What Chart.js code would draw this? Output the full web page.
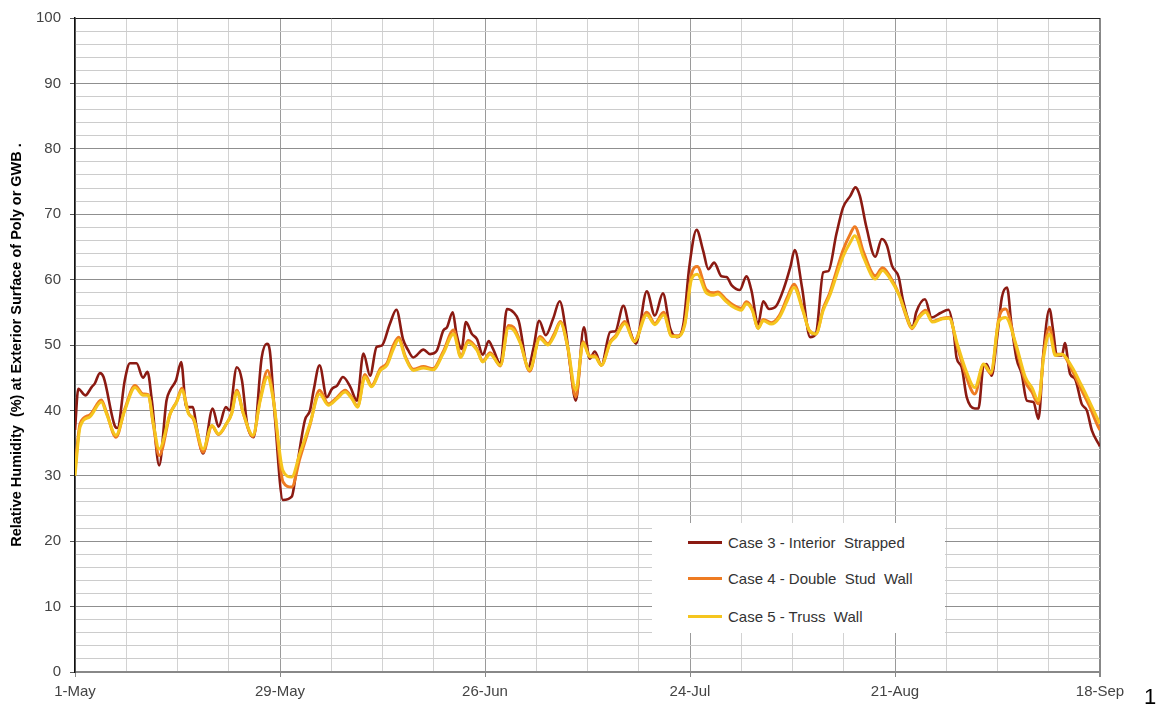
<!DOCTYPE html>
<html><head><meta charset="utf-8">
<script src="https://cdn.jsdelivr.net/npm/chart.js@4/dist/chart.umd.min.js"></script>
<style>
html,body{margin:0;padding:0;background:#fff;}
#wrap{position:relative;width:1163px;height:710px;overflow:hidden;}
#legend{position:absolute;left:652px;top:523px;width:293px;height:110px;background:#fff;font:15px "Liberation Sans",Arial,sans-serif;color:#333;}
.item{position:absolute;left:36px;height:20px;display:flex;align-items:center;white-space:pre;}
.swatch{width:34px;height:3px;margin-right:6px;}
#pagenum{position:absolute;left:1144px;top:684px;font:22px "Liberation Sans",Arial,sans-serif;color:#000;}
</style></head>
<body><div id="wrap"><canvas id="c" width="1163" height="710"></canvas><div id="legend"></div><div id="pagenum">1</div></div>
<script>
// ---- data (x = days since 1-May) ----
const seriesNames = ['Case 3 - Interior  Strapped', 'Case 4 - Double  Stud  Wall', 'Case 5 - Truss  Wall'];
const seriesColors = ['#8B1A12', '#EE7B22', '#F5C51E'];
const tickDays = [0, 28, 56, 84, 112, 140];
const tickLabels = ['1-May', '29-May', '26-Jun', '24-Jul', '21-Aug', '18-Sep'];

const case3Days = [0,0.45,1.4,2.3,2.7,3.4,3.9,5.5,5.8,6.8,7.5,8.4,9.3,9.9,10.5,11.5,12.5,13,13.8,14.5,15.2,16.1,16.6,17.5,18.8,19.6,20.6,21.1,22.1,22.8,23.5,24.4,25.5,26.2,26.6,27.3,28.4,29.6,30.3,31.4,32.1,32.6,33.4,34.4,35.1,35.8,36.6,37.6,38.5,39.4,40.3,41.2,41.9,43,43.9,44.8,45.5,46.2,47.6,48.5,49.4,50.3,50.8,51.6,52.1,52.8,53.4,54.2,54.9,55.7,56.5,57.1,58.1,59,59.9,60.6,61.9,62.6,63.4,64.3,65.3,66.2,67.1,67.6,68.4,69.5,70.3,71,71.9,73.1,73.8,74.9,75.8,76.6,78.1,79.2,80.3,81.3,82.2,83.1,83.9,84.9,85.8,86.5,87.3,88.3,89,89.7,90.8,91.7,92.4,93.3,94,94.8,95.8,96.8,97.7,98.3,99.3,100.4,101.2,102.2,102.9,104,104.9,105.9,106.6,107.2,108.1,109.3,110.2,110.9,111.6,112.5,113.1,114.4,114.9,116.1,117,118.2,119.3,120,120.4,121.1,121.8,122.9,123.4,124.1,124.5,125.2,125.9,126.6,127.3,127.9,128.6,129.3,130,130.9,131.6,132.3,133.1,133.6,134.1,134.8,135.2,135.9,136.6,137.5,138.2,138.9,139.8,140];
const case3RH = [37,43.3,42.3,43.6,44.1,45.7,45.1,37.5,37.3,44.6,47.2,47.2,45,45.9,41.5,31.6,41.5,43.1,44.6,47.4,40.5,40.5,37.5,33.4,40.3,37.5,40.5,40,46.6,44.6,38,35.9,48.1,50.2,49.2,39,26.3,26.8,31.3,38.5,40,43.1,46.9,42,43.3,43.8,45.1,43.6,41.5,48.7,45.3,49.7,49.9,53.2,55.4,50.9,49.2,48.1,49.3,48.6,49.1,52.2,52.7,55,51.7,49.4,53.5,51.7,50.9,48.5,50.6,49.4,47.1,55.5,55,53.7,46.6,49.4,53.7,51.5,54,56.7,51.7,47.1,41.5,52.7,47.9,49,46.9,52,52.1,56,52.2,50.2,58.2,54.5,57.9,52.5,51.2,53.2,61.9,67.6,64.4,61.6,62.6,60.5,60.4,59.1,58.4,60.5,58.3,53.2,56.7,55.5,56,58.6,61.9,64.5,58.8,51.2,51.7,61.1,61.3,67,71,72.8,74.1,72.8,68,63.5,66.2,65.2,62.1,60.4,56.8,52.7,55,57,54.2,54.9,55.4,52.2,48.1,46.6,42,40.3,40.3,46.9,47.1,45.3,50.7,57.3,58.8,53.2,47.9,45.6,41.5,41.3,38.7,49.2,55.5,52.2,48.4,48.4,50.3,45.6,44.8,41,40,36.9,34.9,34.5];

const case45Days = [0,0.7,2,3.6,4.3,5.6,6.8,8.2,9.3,10,10.7,11.5,13,13.9,14.6,15.5,16.2,17.5,18.7,19.6,20.7,21.4,22.1,23,24.3,25.3,26.3,27.1,28.4,29.6,30.7,32.1,33.4,34.6,35.8,36.9,37.8,38.6,39.6,40.5,41.7,42.6,43.5,44.2,45.1,46.2,47.6,48.9,50.3,51.7,52.7,53.7,54.9,55.7,56.7,58.1,59.2,59.9,60.8,62.1,63.5,64.6,65.5,66.3,67.3,68.4,69.4,70.3,71,71.9,73.1,73.9,75.1,76.4,78.1,79.2,80.4,81.5,82.4,83.3,84.2,85,86.2,87.2,87.8,88.8,89.9,91,91.7,92.5,93.3,94,95.1,96.2,97.3,98.2,99.4,100.3,101.2,102.2,103.1,104,104.9,105.9,106.5,107.7,109.3,110.3,111.3,112.6,113.4,114.3,115.3,116.2,117.1,118.5,119.4,120.5,121.7,122.9,124.1,125.1,126.2,127.1,128.5,129.8,130.7,131.6,132.3,133.1,133.9,134.8,136.2,137.4,138.5,139.8,140];
const case4RH = [31,38,39.3,41.6,39.7,35.9,40.2,43.8,42.5,42.4,37.8,33.1,39.5,41.4,43.4,39.6,38.6,33.6,37.6,36.3,38,39.6,43.1,39.5,36,41.8,46.1,41.8,29.1,28.3,32.6,37.8,43.1,41,42,43.1,42,40.6,45.5,43.8,46.4,47.2,50,51.2,48.3,46.3,46.7,46.4,49,52.3,48.3,50.7,49.4,47.5,48.8,46.8,53,52.7,50.5,46,51.3,50.2,51.8,53.6,49.6,42.1,50.5,48.3,48.4,46.9,50.5,51.5,53.6,50.6,55,53.3,55,51.4,51.4,53.4,60.8,62,58.5,58,58.1,57.1,56.1,55.6,56.6,55.5,52.6,53.9,53.4,54.5,57.3,59.3,55.5,52.2,51.7,55.6,58,61.3,64.5,67,68.1,64.2,60.6,61.8,60.5,57.6,54.8,52.5,54.4,55.3,53.6,54.1,54.2,49.8,45.3,42.5,47,45.6,54.2,55.5,49.8,44.4,42.8,41,48.6,52.7,48.6,48.6,46.1,43.3,40.8,37.4,37];
const case5RH = [30,37.5,39,41.3,39.5,36.2,40,43.5,42.3,42.3,38,34.1,39.5,41.3,43.1,39.5,38.7,34.1,37.7,36.4,38,39.5,42.8,39.5,36.2,41.5,45.1,41.5,30.8,29.8,33.4,38,42.5,40.8,41.8,42.8,41.8,40.5,45.1,43.6,46.1,46.9,49.4,50.8,48.1,46.1,46.5,46.2,48.7,51.7,48.1,50.4,49.2,47.4,48.6,46.9,52.6,52.3,50.3,46.2,51,50,51.5,53.4,49.7,43.1,50.3,48.2,48.2,46.9,50.3,51.3,53.3,50.5,54.6,53.1,54.6,51.3,51.3,53.1,60,60.8,58,57.6,57.8,56.8,55.8,55.3,56.3,55.3,52.5,53.7,53.2,54.2,56.8,58.8,55.3,52.2,51.7,55.3,57.6,60.6,63.5,65.7,66.7,63.4,60.1,61.4,60.2,57.5,55,52.6,54.2,55,53.5,54,54.1,50.2,46.1,43.5,47.1,45.8,53.7,54.2,50.2,45.1,43.5,41.5,48.1,51.7,48.4,48.6,46.6,44,41.5,38.4,38];

const seriesDays = [case3Days, case45Days, case45Days];
const seriesValues = [case3RH, case4RH, case5RH];

// ---- build ----
const FONT = '"Liberation Sans", Arial, sans-serif';
const datasets = seriesNames.map((name, i) => ({
  label: name,
  data: seriesDays[i].map((d, k) => ({ x: d, y: seriesValues[i][k] })),
  borderColor: seriesColors[i],
  backgroundColor: seriesColors[i],
  borderWidth: i === 0 ? 2.6 : 3,
  pointRadius: 0,
  cubicInterpolationMode: 'monotone',
  fill: false,
  order: 3 - i
}));

new Chart(document.getElementById('c'), {
  type: 'line',
  data: { datasets },
  options: {
    responsive: false,
    animation: false,
    devicePixelRatio: 1,
    layout: { padding: { left: 0, right: 63, top: 17, bottom: 0 } },
    plugins: { legend: { display: false }, tooltip: { enabled: false } },
    scales: {
      x: {
        type: 'linear', min: 0, max: 140,
        afterFit: s => { s.height = 38; },
        ticks: {
          stepSize: 7, autoSkip: false, maxRotation: 0, padding: 6,
          color: '#444', font: { family: FONT, size: 15 },
          callback: v => { const k = tickDays.indexOf(v); return k >= 0 ? tickLabels[k] : ''; }
        },
        grid: {
          color: c => (c.tick && c.tick.value % 28 === 0) ? (c.tick.value === 140 ? '#888' : '#9a9a9a') : '#d2d2d2',
          lineWidth: c => (c.tick && c.tick.value === 140) ? 2 : 1,
          tickColor: c => (c.tick && c.tick.value % 28 === 0) ? '#888' : 'rgba(0,0,0,0)',
          tickLength: 5
        },
        border: { color: '#888', width: 2 }
      },
      y: {
        min: 0, max: 100,
        afterFit: s => { s.width = 75; },
        ticks: {
          stepSize: 2, autoSkip: false, padding: 9,
          color: '#444', font: { family: FONT, size: 15 },
          callback: v => (v % 10 === 0 ? String(v) : '')
        },
        grid: {
          color: c => (c.tick && c.tick.value % 10 === 0) ? (c.tick.value === 100 ? '#222' : '#8f8f8f') : '#cccccc',
          tickColor: c => (c.tick && c.tick.value % 10 === 0) ? '#555' : 'rgba(0,0,0,0)',
          tickLength: 5
        },
        border: { color: '#111', width: 1.5 },
        title: {
          display: true,
          text: 'Relative Humidity  (%) at Exterior Surface of Poly or GWB .',
          color: '#000',
          font: { family: FONT, size: 14.5, weight: 'bold' },
          padding: { top: 8, bottom: 0 }
        }
      }
    }
  }
});

// ---- legend (HTML overlay) ----
const legend = document.getElementById('legend');
const rowTops = [9, 45, 83];
seriesNames.forEach((name, i) => {
  const item = document.createElement('div');
  item.className = 'item';
  item.style.top = rowTops[i] + 'px';
  const sw = document.createElement('span');
  sw.className = 'swatch';
  sw.style.background = seriesColors[i];
  const tx = document.createElement('span');
  tx.textContent = name;
  item.appendChild(sw);
  item.appendChild(tx);
  legend.appendChild(item);
});
</script>
</body></html>
